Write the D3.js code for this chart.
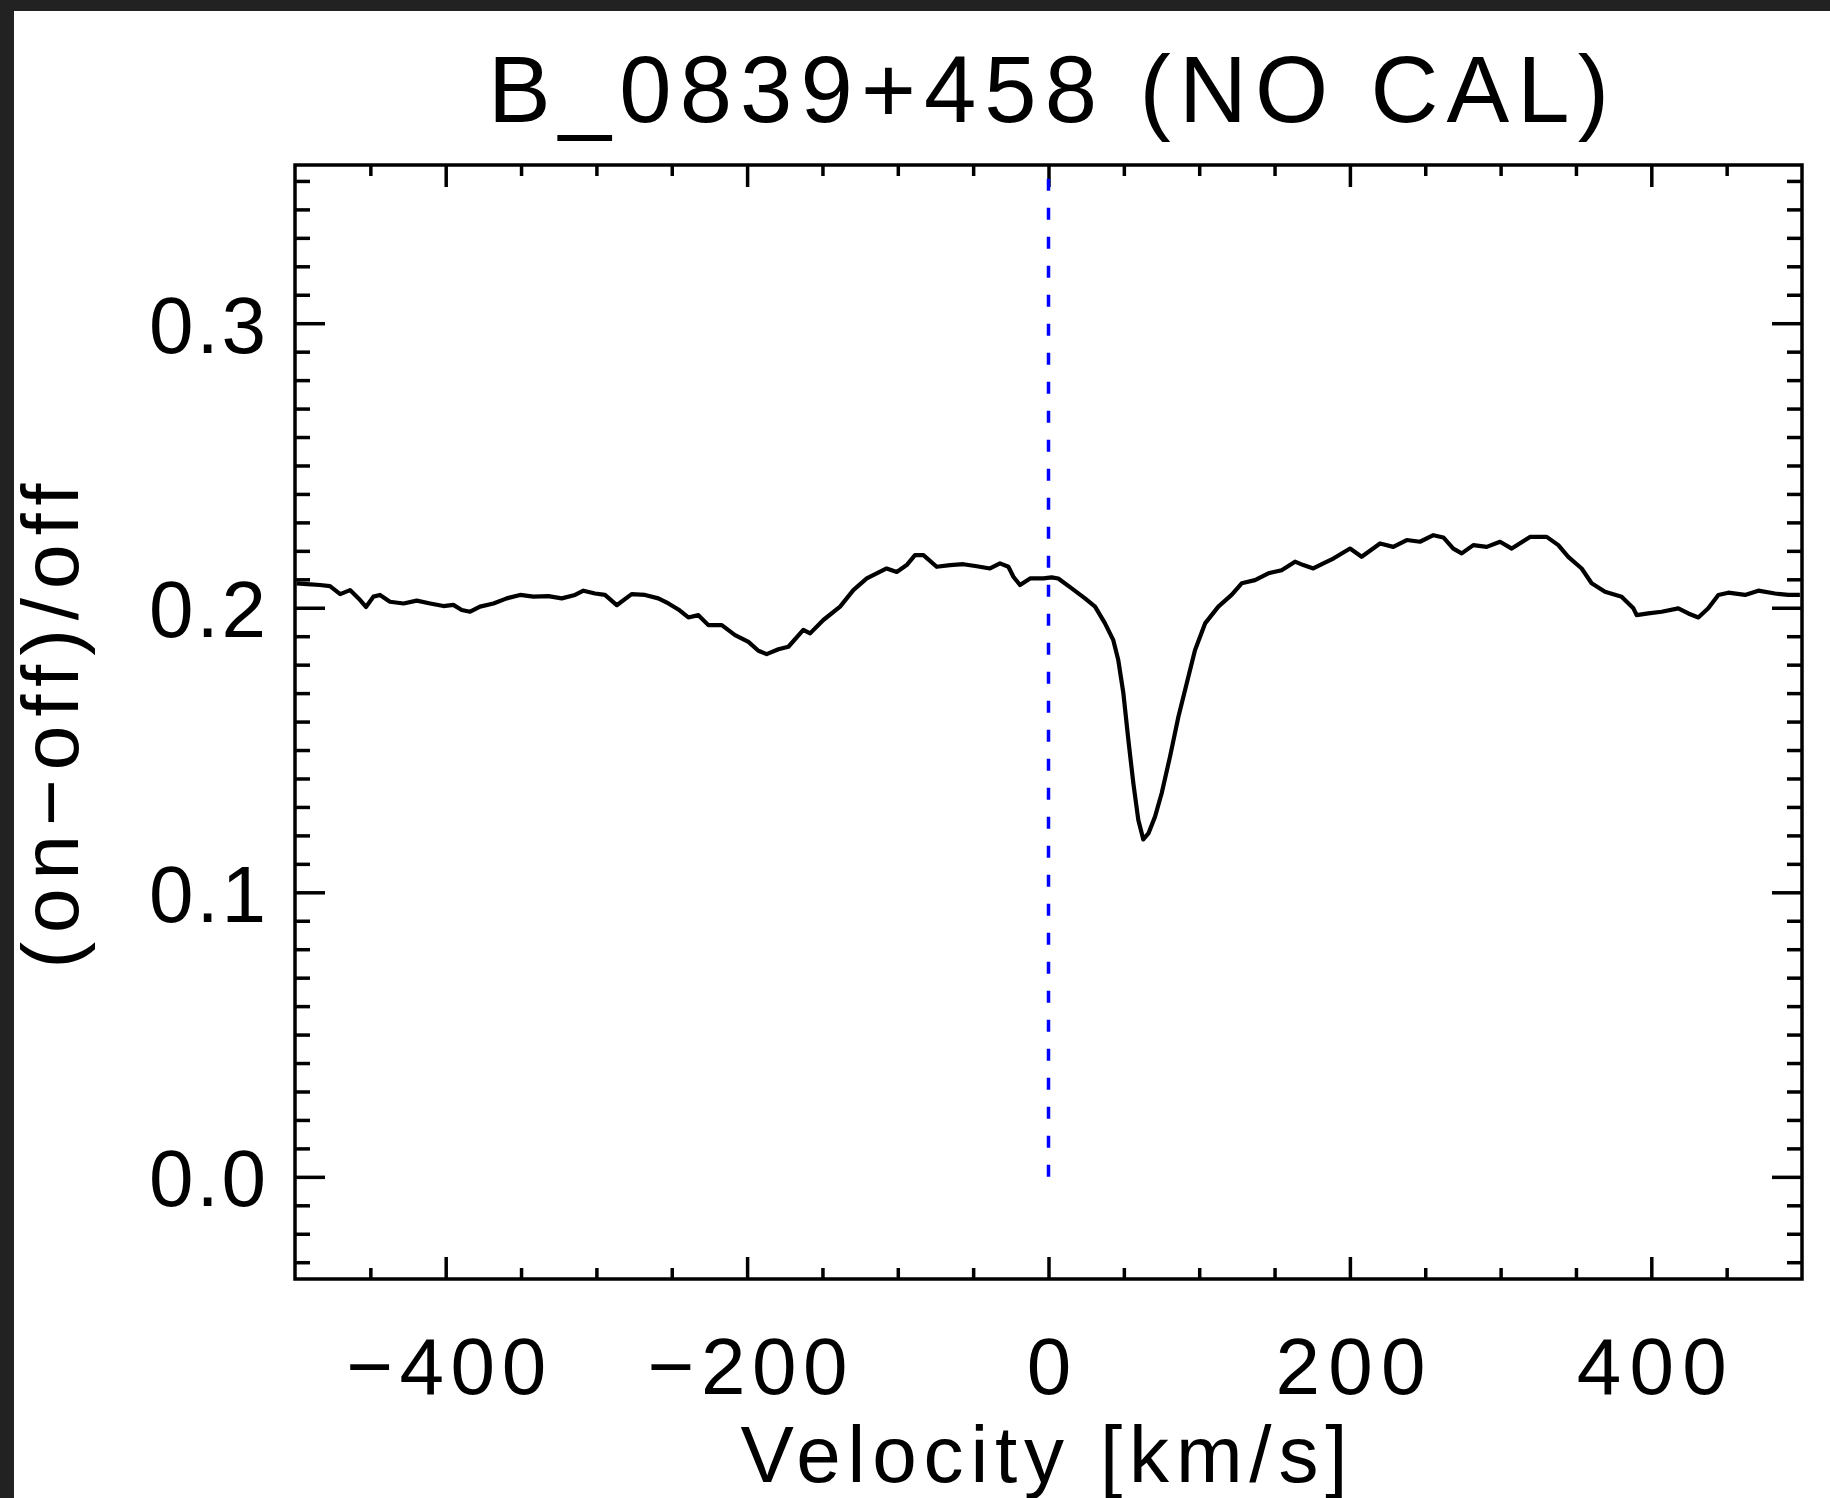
<!DOCTYPE html>
<html>
<head>
<meta charset="utf-8">
<script src="https://cdn.jsdelivr.net/npm/d3@7"></script>
<style>
  html, body { margin: 0; padding: 0; background: #222222; }
  svg { display: block; }
  text { font-family: "Liberation Sans Narrow", "Liberation Sans", "DejaVu Sans", sans-serif; fill: #000; }
</style>
</head>
<body>
<svg id="chart" width="1830" height="1498"></svg>
<script>
// ---- data ----
const titleText = "B_0839+458 (NO CAL)";
const xLabelText = "Velocity [km/s]";
const yLabelText = "(on\u2212off)/off";

const velocity = [
  -498.9, -492, -483.4, -476.8, -470, -463.5, -456.8, -452.9, -448, -443.6, -437, -428, -419.2, -410.3,
  -401.5, -394.9, -389.4, -383.8, -377.2, -368.3, -359.5, -350.6, -341.8,
  -331.9, -323, -314.2, -308.6, -300.9, -294.3, -286.5, -276.6, -267.7, -258.9, -252.2, -245.6, -239,
  -232.3, -225.7, -216.8, -208, -199.1, -192.5, -187, -179.2, -172.6,
  -162.7, -158.2, -149.4, -138.3, -129.5, -120.6, -107.4, -100.7, -94.1, -88.6, -83, -74.2, -65.3,
  -56.5, -47.6, -38.8, -32.2, -26.6, -23.3, -18.9, -12.2, -3.4,
  2.1, 6.5, 15.4, 24.2, 30.9, 37.5, 43, 46.3, 49.7, 53, 56.3, 59.6, 62.9, 66.3, 70.7, 75.1, 80.6,
  86.2, 91.7, 97.2, 103.9, 112.7, 121.5, 128.2, 137, 145.9, 154.7, 163.6,
  169.1, 175.7, 182.4, 189, 200.1, 207.8, 220, 228.8, 237.7, 246.5, 255.4, 262, 268.6, 274.2, 281.9,
  290.8, 299.6, 307.4, 319.5, 330.6, 338.3,
  344.9, 353.8, 360.4, 369.3, 380.3, 388.1, 390.3, 398, 406.9, 417.9, 424.6, 431.2, 437.8, 444.5,
  451.1, 462.2, 471, 482.1, 490.9, 498.6
];
const ratio = [
  0.2086, 0.2083, 0.2080, 0.2076, 0.2048, 0.2062, 0.2027, 0.2003, 0.2039, 0.2045, 0.2021, 0.2015, 0.2025, 0.2015,
  0.2006, 0.2010, 0.1992, 0.1986, 0.2004, 0.2015, 0.2033, 0.2045, 0.2039,
  0.2041, 0.2033, 0.2045, 0.2060, 0.2050, 0.2045, 0.2009, 0.2048, 0.2045, 0.2033, 0.2015, 0.1994, 0.1966,
  0.1974, 0.1939, 0.1939, 0.1904, 0.1880, 0.1849, 0.1837, 0.1854, 0.1863,
  0.1922, 0.1910, 0.1957, 0.2004, 0.2062, 0.2103, 0.2138, 0.2126, 0.2150, 0.2185, 0.2185, 0.2144, 0.2150,
  0.2153, 0.2146, 0.2138, 0.2156, 0.2144, 0.2109, 0.2080, 0.2103, 0.2103,
  0.2107, 0.2103, 0.2068, 0.2033, 0.2004, 0.1945, 0.1886, 0.1816, 0.1699, 0.1535, 0.1383, 0.1254, 0.1186, 0.1207, 0.1266, 0.1348, 0.1476,
  0.1617, 0.1734, 0.1851, 0.1945, 0.2004, 0.2045, 0.2086, 0.2097, 0.2121, 0.2132, 0.2162,
  0.2150, 0.2138, 0.2156, 0.2173, 0.2208, 0.2179, 0.2226, 0.2214, 0.2238, 0.2232, 0.2255, 0.2247, 0.2208, 0.2191, 0.2220,
  0.2214, 0.2232, 0.2208, 0.2249, 0.2249, 0.2220,
  0.2179, 0.2138, 0.2086, 0.2056, 0.2039, 0.1998, 0.1974, 0.1980, 0.1986, 0.1998, 0.1980, 0.1966, 0.1998, 0.2045,
  0.2053, 0.2045, 0.2060, 0.2050, 0.2045, 0.2045
];

const xDomain = [-500, 500];
const yDomain = [-0.0359, 0.3556];
const xMajorTicks = [-400, -200, 0, 200, 400];
const xTickLabels = ["\u2212400", "\u2212200", "0", "200", "400"];
const yMajorTicks = [0.0, 0.1, 0.2, 0.3];
const yTickLabels = ["0.0", "0.1", "0.2", "0.3"];
const markerVelocity = 0;     // blue dashed reference line
const markerRange = [0, yDomain[1]];

// ---- layout ----
const svg = d3.select("#chart");
const W = 1830, H = 1498;
const pLeft = 295, pRight = 1802, pTop = 165, pBottom = 1279;

svg.append("rect").attr("x", 14).attr("y", 11).attr("width", W - 14).attr("height", H - 11).attr("fill", "#fff");

const x = d3.scaleLinear().domain(xDomain).range([pLeft, pRight]);
const y = d3.scaleLinear().domain(yDomain).range([pBottom, pTop]);

const xMinor = d3.range(-450, 451, 50).filter(v => !xMajorTicks.includes(v));
const yMinor = d3.range(-3, 36, 1).map(v => v / 100).filter(v => !yMajorTicks.some(t => Math.abs(t - v) < 1e-9));

const plotW = pRight - pLeft, plotH = pBottom - pTop;
const xMajLen = 22, xMinLen = 11, yMajLen = 30, yMinLen = 15;

function styleAxis(g) {
  g.select(".domain").remove();
  g.selectAll(".tick line").attr("stroke", "#000").attr("stroke-width", 3.5);
}

// bottom axis
const gb = svg.append("g").attr("transform", `translate(0,${pBottom})`)
  .call(d3.axisBottom(x).tickValues(xMajorTicks).tickSize(-xMajLen).tickPadding(58)
        .tickFormat((d, i) => xTickLabels[i]));
styleAxis(gb);
gb.selectAll(".tick text").attr("font-size", 80).attr("dy", "0.71em")
  .attr("textLength", (d, i) => xTickLabels[i].length > 1 ? (xTickLabels[i].length === 4 ? 200 : 150) : 44)
  .attr("lengthAdjust", "spacing");
svg.append("g").attr("transform", `translate(0,${pBottom})`)
  .call(d3.axisBottom(x).tickValues(xMinor).tickSize(-xMinLen).tickFormat("")).call(styleAxis);

// top axis
svg.append("g").attr("transform", `translate(0,${pTop})`)
  .call(d3.axisTop(x).tickValues(xMajorTicks).tickSize(-xMajLen).tickFormat("")).call(styleAxis);
svg.append("g").attr("transform", `translate(0,${pTop})`)
  .call(d3.axisTop(x).tickValues(xMinor).tickSize(-xMinLen).tickFormat("")).call(styleAxis);

// left axis
const gl = svg.append("g").attr("transform", `translate(${pLeft},0)`)
  .call(d3.axisLeft(y).tickValues(yMajorTicks).tickSize(-yMajLen).tickPadding(29)
        .tickFormat((d, i) => yTickLabels[i]));
styleAxis(gl);
gl.selectAll(".tick text").attr("font-size", 80).attr("dy", "0.36em")
  .attr("textLength", 117).attr("lengthAdjust", "spacing");
svg.append("g").attr("transform", `translate(${pLeft},0)`)
  .call(d3.axisLeft(y).tickValues(yMinor).tickSize(-yMinLen).tickFormat("")).call(styleAxis);

// right axis
svg.append("g").attr("transform", `translate(${pRight},0)`)
  .call(d3.axisRight(y).tickValues(yMajorTicks).tickSize(-yMajLen).tickFormat("")).call(styleAxis);
svg.append("g").attr("transform", `translate(${pRight},0)`)
  .call(d3.axisRight(y).tickValues(yMinor).tickSize(-yMinLen).tickFormat("")).call(styleAxis);

svg.selectAll("g").attr("font-family", null);

// frame
svg.append("rect").attr("x", pLeft).attr("y", pTop).attr("width", plotW).attr("height", plotH)
  .attr("fill", "none").attr("stroke", "#000").attr("stroke-width", 3.5);

// blue dashed marker
svg.append("line")
  .attr("x1", x(markerVelocity)).attr("x2", x(markerVelocity))
  .attr("y1", y(markerRange[0])).attr("y2", y(markerRange[1]))
  .attr("stroke", "#0000ff").attr("stroke-width", 3.5).attr("stroke-dasharray", "12,17");

// spectrum
const pts = velocity.map((v, i) => [v, ratio[i]]);
svg.append("path").datum(pts)
  .attr("d", d3.line().x(d => x(d[0])).y(d => y(d[1])))
  .attr("fill", "none").attr("stroke", "#000").attr("stroke-width", 4.2).attr("stroke-linejoin", "round");

// title
svg.append("text").attr("x", (pLeft + pRight) / 2).attr("y", 122).attr("text-anchor", "middle")
  .attr("font-size", 94).attr("textLength", 1121).attr("lengthAdjust", "spacing").text(titleText);

// x label
svg.append("text").attr("x", 1044).attr("y", 1482).attr("text-anchor", "middle")
  .attr("font-size", 80).attr("textLength", 607).attr("lengthAdjust", "spacing").text(xLabelText);

// y label
svg.append("text").attr("transform", `translate(78,726) rotate(-90)`).attr("text-anchor", "middle")
  .attr("font-size", 80).attr("textLength", 485).attr("lengthAdjust", "spacing").text(yLabelText);
</script>
</body>
</html>
